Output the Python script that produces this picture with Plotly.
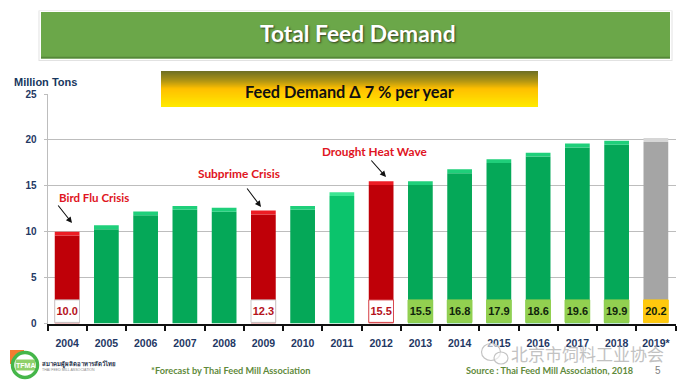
import plotly.graph_objects as go

W, H = 686, 387
years = ["2004","2005","2006","2007","2008","2009","2010","2011","2012","2013","2014","2015","2016","2017","2018","2019*"]
demand = [10.0,10.7,12.2,12.8,12.6,12.3,12.8,14.3,15.5,15.5,16.8,17.9,18.6,19.6,19.9,20.2]
shown = {"2004","2009","2012","2013","2014","2015","2016","2017","2018","2019*"}
crisis = {"2004","2009","2012"}

def body_color(y):
    if y in crisis: return "#bf0008"
    if y == "2019*": return "#a5a5a5"
    if y == "2011": return "#0bc46c"
    return "#05a858"
def cap_color(y):
    if y in crisis: return "#ec1c24"
    if y == "2019*": return "#d6d6d6"
    if y == "2011": return "#3ce592"
    return "#1fcf7a"
def box_color(y):
    if y in crisis: return "#ffffff"
    if y == "2019*": return "#ffc90e"
    return "#92d050"

cap_h = 0.42
fig = go.Figure()
fig.add_bar(x=years, y=[v - cap_h for v in demand], width=0.63, hoverinfo="skip",
            marker=dict(color=[body_color(y) for y in years], line=dict(width=0)))
fig.add_bar(x=years, y=[cap_h]*len(years), base=[v - cap_h for v in demand], width=0.63, hoverinfo="skip",
            marker=dict(color=[cap_color(y) for y in years], line=dict(width=0)))
bx = [y for y in years if y in shown]
bv = [f"{demand[years.index(y)]:.1f}" for y in bx]
fig.add_bar(x=bx, y=[2.45]*len(bx), base=[0.12]*len(bx), width=0.63, hoverinfo="skip",
            marker=dict(color=[box_color(y) for y in bx],
                        line=dict(color=["#c9c9c9" if y in ("2004","2009") else "#d8484e" if y=="2012" else box_color(y) for y in bx], width=1)),
            text=bv, textposition="inside", insidetextanchor="middle", textangle=0, constraintext="none",
            textfont=dict(family="Liberation Sans", size=11,
                          color=["#b5121b" if y in crisis else "#10240c" for y in bx], weight="bold"))

def px(x): return x / W
def py(y): return 1 - y / H

shapes, anns = [], []
def rect(x0, y0, x1, y1, fill, line=None, lw=0):
    shapes.append(dict(type="rect", xref="paper", yref="paper", x0=px(x0), x1=px(x1), y0=py(y0), y1=py(y1),
                       fillcolor=fill, line=dict(color=line or fill, width=lw)))
def circ(cx, cy, rx, ry, fill, line, lw):
    shapes.append(dict(type="circle", xref="paper", yref="paper", x0=px(cx-rx), x1=px(cx+rx), y0=py(cy-ry), y1=py(cy+ry),
                       fillcolor=fill, line=dict(color=line, width=lw)))
def text(x, y, s, size, color, family="Lato", bold=True, anchor="center", shadow=None):
    f = dict(family=family, size=size, color=color)
    if bold: f["weight"] = "bold"
    if shadow: f["shadow"] = shadow
    anns.append(dict(xref="paper", yref="paper", x=px(x), y=py(y), text=s, showarrow=False, xanchor=anchor,
                     yanchor="middle", font=f, borderpad=0))
def arrow(x0, y0, x1, y1):
    anns.append(dict(xref="paper", yref="paper", x=px(x1), y=py(y1), axref="pixel", ayref="pixel",
                     ax=x0-x1, ay=y0-y1, text="", showarrow=True, arrowhead=2, arrowsize=1.1, arrowwidth=1.1, arrowcolor="#111111"))

# title banner
rect(38.5, 10.5, 672.5, 61, "#e2e2e2")
rect(39.5, 11, 671.5, 60, "#ffffff")
rect(41, 12, 670, 58.5, "#6ba749")
rect(41, 56.8, 670, 58.5, "#55883a")
text(358, 33, "Total Feed Demand", 22.8, "#ffffff", shadow="1px 1px 2px #33401f")

# gradient box
top, bot = 71, 106.5
stops = [(0.0, (112,112,36)), (0.28, (178,150,20)), (0.5, (255,192,0)), (1.0, (255,232,0))]
n = 36
for i in range(n):
    t = i / (n - 1)
    for (a, ca), (b, cb) in zip(stops, stops[1:]):
        if a <= t <= b:
            k = (t - a) / (b - a)
            c = tuple(round(ca[j] + (cb[j] - ca[j]) * k) for j in range(3))
            break
    yy = top + (bot - top) * i / n
    rect(161, yy, 538, yy + (bot - top) / n + 0.4, f"rgb{c}")
text(350, 91, "Feed Demand Δ 7 % per year", 16.3, "#111111")

text(13, 82, "Million Tons", 11, "#17375e", family="Liberation Sans", anchor="left")

# crisis labels
text(94, 197, "Bird Flu Crisis", 11.5, "#e01422")
text(239, 173, "Subprime Crisis", 11.9, "#e01422")
text(374, 152, "Drought Heat Wave", 11.8, "#e01422")
arrow(57, 204, 72, 223)
arrow(246, 187, 261, 207)
arrow(370, 159, 386, 177)

# footer
text(230.5, 370, "*Forecast by Thai Feed Mill Association", 9.2, "#5f8a3c")
text(549.5, 370, "Source : Thai Feed Mill Association, 2018", 9.2, "#5f8a3c")
text(658, 370, "5", 10, "#7f7f7f", family="Liberation Sans", bold=False)

# logo
rect(10, 350, 24, 364, "#f47b30")
circ(25, 365, 12.5, 12.5, "#ffffff", "#45b649", 3.5)
shapes.append(dict(type="rect", xref="paper", yref="paper", x0=px(15.5), x1=px(35), y0=py(370.5), y1=py(359.5),
                   fillcolor="#8fd06a", line=dict(width=0)))
text(25, 365, "TFMA", 7, "#ffffff", family="Liberation Sans")
text(41, 364, "สมาคมผู้ผลิตอาหารสัตว์ไทย", 6, "#26324a", family="Noto Sans", anchor="left")
text(41, 369.5, "THAI FEED MILL ASSOCIATION", 3.6, "#8a8a8a", family="Liberation Sans", bold=False, anchor="left")

# watermark
circ(491, 352, 9.5, 8.5, "rgba(255,255,255,0.6)", "#c4c4c4", 1.2)
circ(501, 358, 7, 6, "rgba(255,255,255,0.6)", "#c4c4c4", 1.2)
text(587, 353, "北京市饲料工业协会", 17, "#c2c2c2", family="Noto Sans CJK SC", bold=False, shadow="0 0 2px #ffffff")

fig.update_layout(
    width=W, height=H, autosize=False, margin=dict(l=0, r=0, t=0, b=0, autoexpand=False),
    paper_bgcolor="#ffffff", plot_bgcolor="#ffffff", barmode="overlay", bargap=0.37, showlegend=False,
    shapes=shapes, annotations=anns,
    xaxis=dict(domain=[px(47.5), px(675.5)], type="category", categoryorder="array", categoryarray=years,
               range=[-0.5, 15.5], tickson="boundaries", ticks="outside", ticklen=5, tickwidth=1.5, tickcolor="#111111",
               showline=True, linecolor="#111111", linewidth=2.2, showgrid=False, ticklabelstandoff=9,
               tickfont=dict(family="Liberation Sans", size=10.5, color="#1f3864", weight="bold"), tickangle=0),
    yaxis=dict(domain=[py(323.5), py(94)], range=[0, 25], tickvals=[0,5,10,15,20,25], ticks="outside", ticklen=3,
               tickcolor="#bdbdbd", showline=True, linecolor="#bdbdbd", linewidth=1, showgrid=True, gridcolor="#bdbdbd",
               gridwidth=1, zeroline=False, ticklabelstandoff=5,
               tickfont=dict(family="Liberation Sans", size=10, color="#1f3864", weight="bold")),
)
fig.write_html("out.html", config=dict(displayModeBar=False),
               post_script="document.body.style.margin='0';document.documentElement.style.overflow='hidden';")
